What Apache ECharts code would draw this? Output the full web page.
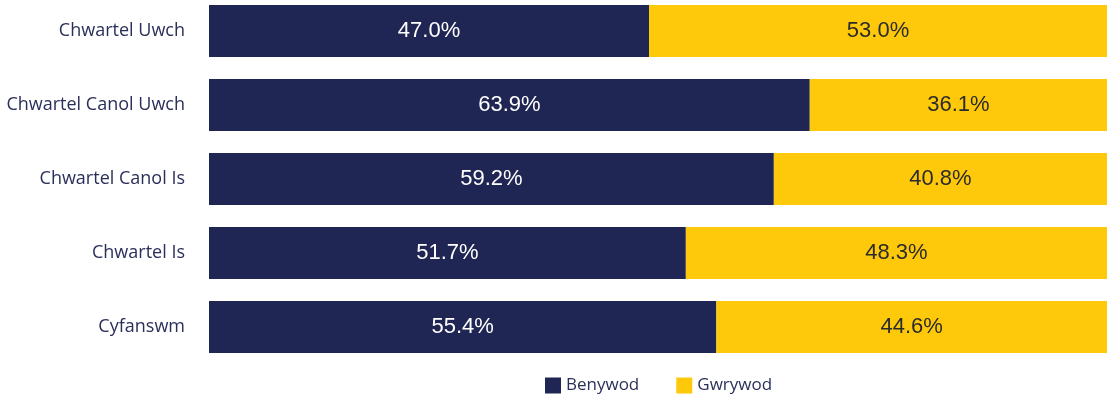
<!DOCTYPE html>
<html><head><meta charset="utf-8">
<script src="https://cdn.jsdelivr.net/npm/echarts@6/dist/echarts.min.js"></script>
<style>html,body{margin:0;padding:0;background:#fff;overflow:hidden}#c{position:absolute;left:0;top:-6px;width:1107px;height:407px}</style>
</head><body><div id="c"></div>
<script>
const categories = ["Chwartel Uwch","Chwartel Canol Uwch","Chwartel Canol Is","Chwartel Is","Cyfanswm"];
// printed percentages
const benywodPct = [47.0,63.9,59.2,51.7,55.4];
const gwrywodPct = [53.0,36.1,40.8,48.3,44.6];
// bar lengths as drawn in the reference (share of the full bar)
const benywodBar = [49.0,66.9,62.9,53.1,56.5];
const gwrywodBar = [51.0,33.1,37.1,46.9,43.5];
const chart = echarts.init(document.getElementById('c'));
chart.setOption({
  animation:false,
  grid:{left:209,right:0,top:0,bottom:37,containLabel:false},
  legend:{bottom:2,left:540,itemWidth:16,itemHeight:16,itemGap:37,icon:'rect',
    textStyle:{fontFamily:'Open Sans',fontSize:17,color:'#2a2f5a'}},
  xAxis:{type:'value',min:0,max:100,show:false},
  yAxis:{type:'category',inverse:true,data:categories,axisLine:{show:false},axisTick:{show:false},
    axisLabel:{margin:24,fontFamily:'Open Sans',fontSize:18,color:'#2a2f5a',padding:[0,0,4,0]}},
  series:[
    {name:'Benywod',type:'bar',stack:'a',data:benywodBar,barCategoryGap:'30%',itemStyle:{color:'#1f2654'},
     label:{show:true,position:'inside',formatter:p=>benywodPct[p.dataIndex].toFixed(1)+'%',color:'#fff',fontFamily:'Liberation Sans',fontSize:22}},
    {name:'Gwrywod',type:'bar',stack:'a',data:gwrywodBar,barCategoryGap:'30%',itemStyle:{color:'#fec90b'},
     label:{show:true,position:'inside',formatter:p=>gwrywodPct[p.dataIndex].toFixed(1)+'%',color:'#2b2b2b',fontFamily:'Liberation Sans',fontSize:22}}
  ]
});
</script></body></html>
